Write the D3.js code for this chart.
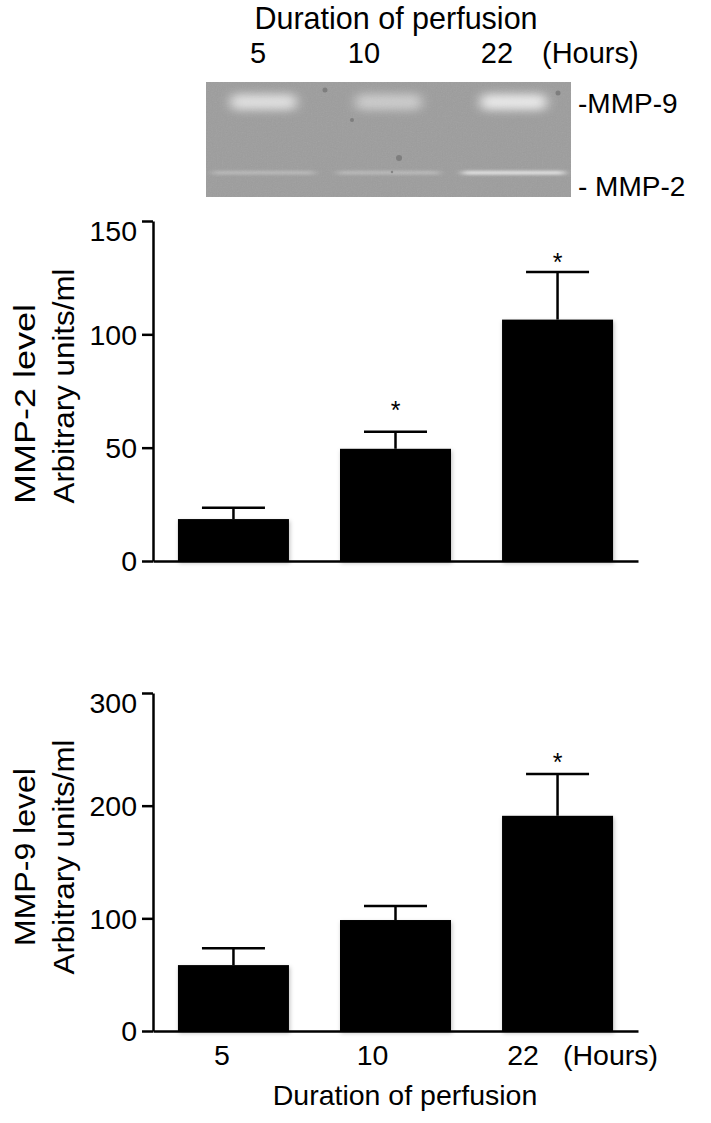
<!DOCTYPE html>
<html>
<head>
<meta charset="utf-8">
<script src="https://cdn.jsdelivr.net/npm/d3@7"></script>
<style>
  body { margin: 0; background: #fff; }
  svg { display: block; font-family: "Liberation Sans", Arial, Helvetica, sans-serif; }
</style>
</head>
<body>
<div id="chart"></div>
<script>
// ---- data ----
const hours = ["5", "10", "22"];

const mmp2Mean = [18.5, 49.5, 106.5];
const mmp2Sem = [5, 7.5, 21];
const mmp2Sig = [false, true, true];
const mmp2Ticks = [0, 50, 100, 150];

const mmp9Mean = [58.5, 98.5, 191];
const mmp9Sem = [15, 12.5, 37];
const mmp9Sig = [false, false, true];
const mmp9Ticks = [0, 100, 200, 300];

// zymogram band brightness per lane (0..1)
const gelMmp9 = [0.65, 0.45, 0.75];
const gelMmp2 = [0.3, 0.3, 0.75];

// ---- svg ----
const width = 711, height = 1123;
const svg = d3.select("#chart").append("svg")
    .attr("width", width)
    .attr("height", height);

const defs = svg.append("defs");
defs.append("filter").attr("id", "blur9")
    .attr("x", "-40%").attr("y", "-150%").attr("width", "180%").attr("height", "400%")
    .append("feGaussianBlur").attr("stdDeviation", "6 4");
defs.append("filter").attr("id", "blur2")
    .attr("x", "-30%").attr("y", "-300%").attr("width", "160%").attr("height", "700%")
    .append("feGaussianBlur").attr("stdDeviation", "4 1.5");
defs.append("filter").attr("id", "shadow")
    .attr("x", "-10%").attr("y", "-10%").attr("width", "130%").attr("height", "130%")
    .append("feDropShadow").attr("dx", 1).attr("dy", 2).attr("stdDeviation", 2)
    .attr("flood-color", "#000").attr("flood-opacity", 0.25);
const noise = defs.append("filter").attr("id", "noise")
    .attr("x", 0).attr("y", 0).attr("width", "100%").attr("height", "100%");
noise.append("feTurbulence").attr("type", "fractalNoise")
    .attr("baseFrequency", 0.8).attr("numOctaves", 2).attr("seed", 3);
noise.append("feColorMatrix").attr("type", "saturate").attr("values", 0);

// ---- gel picture at the top ----
const gel = { x0: 206, x1: 571, y0: 82, y1: 197 };
const lane = d3.scaleBand().domain(hours).range([gel.x0, gel.x1]).paddingInner(0.12).paddingOuter(0.02);

svg.append("rect")
    .attr("x", gel.x0).attr("y", gel.y0)
    .attr("width", gel.x1 - gel.x0).attr("height", gel.y1 - gel.y0)
    .attr("fill", "#9d9d9d");
svg.append("rect")
    .attr("x", gel.x0).attr("y", gel.y0)
    .attr("width", gel.x1 - gel.x0).attr("height", gel.y1 - gel.y0)
    .attr("filter", "url(#noise)")
    .attr("opacity", 0.12);

const gelG = svg.append("g");
gelG.selectAll(".b9")
    .data(hours)
    .join("rect")
    .attr("class", "b9")
    .attr("x", d => lane(d) + 22)
    .attr("y", 94)
    .attr("width", lane.bandwidth() - 44)
    .attr("height", 16)
    .attr("rx", 6)
    .attr("fill", "#fff")
    .attr("opacity", (d, i) => gelMmp9[i])
    .attr("filter", "url(#blur9)");

gelG.selectAll(".b2")
    .data(hours)
    .join("rect")
    .attr("class", "b2")
    .attr("x", d => lane(d) + 4)
    .attr("y", 171)
    .attr("width", lane.bandwidth() - 8)
    .attr("height", 3.5)
    .attr("fill", "#fff")
    .attr("opacity", (d, i) => gelMmp2[i])
    .attr("filter", "url(#blur2)");

// a few specks on the gel
[[325, 90, 2.5], [352, 120, 2], [399, 158, 3], [558, 93, 2.5], [392, 172, 1.2]].forEach(([cx, cy, r]) => {
    gelG.append("circle").attr("cx", cx).attr("cy", cy).attr("r", r)
        .attr("fill", "#707070").attr("opacity", 0.7);
});

svg.append("text")
    .attr("x", 396).attr("y", 29)
    .attr("text-anchor", "middle")
    .attr("font-size", 30.5)
    .text("Duration of perfusion");

const gelLabelX = [258, 364, 497];
svg.selectAll(".laneLabel")
    .data(hours)
    .join("text")
    .attr("class", "laneLabel")
    .attr("x", (d, i) => gelLabelX[i])
    .attr("y", 63)
    .attr("text-anchor", "middle")
    .attr("font-size", 29)
    .text(d => d);

svg.append("text").attr("x", 542).attr("y", 63).attr("font-size", 29).text("(Hours)");
svg.append("text").attr("x", 578).attr("y", 113).attr("font-size", 28).text("-MMP-9");
svg.append("text").attr("x", 578).attr("y", 196).attr("font-size", 28).text("- MMP-2");

// ---- bar panels ----
const x = d3.scaleBand()
    .domain(hours)
    .range([153, 638])
    .paddingInner(0.315)
    .paddingOuter(0.154);

function drawPanel(opts) {
    const { top, bottom, mean, sem, sig, ticks, line1, line2, labelY, line1Y, starGap } = opts;
    const rows = hours.map((h, i) => ({ h, mean: mean[i], sem: sem[i], sig: sig[i] }));

    const y = d3.scaleLinear()
        .domain([0, d3.max(ticks)])
        .range([bottom, top]);

    const g = svg.append("g");

    // bars
    g.selectAll(".bar")
        .data(rows)
        .join("rect")
        .attr("class", "bar")
        .attr("x", d => x(d.h))
        .attr("y", d => y(d.mean))
        .attr("width", x.bandwidth())
        .attr("height", d => y(0) - y(d.mean))
        .attr("fill", "#000")
        .attr("filter", "url(#shadow)");

    // error bars
    const cx = d => x(d.h) + x.bandwidth() / 2;
    g.selectAll(".err")
        .data(rows)
        .join("line")
        .attr("class", "err")
        .attr("x1", cx).attr("x2", cx)
        .attr("y1", d => y(d.mean))
        .attr("y2", d => y(d.mean + d.sem))
        .attr("stroke", "#000").attr("stroke-width", 2.5);

    g.selectAll(".cap")
        .data(rows)
        .join("line")
        .attr("class", "cap")
        .attr("x1", d => cx(d) - 31.5).attr("x2", d => cx(d) + 31.5)
        .attr("y1", d => y(d.mean + d.sem))
        .attr("y2", d => y(d.mean + d.sem))
        .attr("stroke", "#000").attr("stroke-width", 2.5);

    // significance stars
    g.selectAll(".star")
        .data(rows.filter(d => d.sig))
        .join("text")
        .attr("class", "star")
        .attr("x", cx)
        .attr("y", d => y(d.mean + d.sem) - starGap[hours.indexOf(d.h)] + 13)
        .attr("text-anchor", "middle")
        .attr("font-size", 25)
        .text("*");

    // axes
    const yAxis = g.append("g")
        .attr("transform", "translate(153,0)")
        .call(d3.axisLeft(y).tickValues(ticks).tickSize(11).tickSizeOuter(0).tickPadding(5));
    yAxis.selectAll("path, line").attr("stroke", "#000").attr("stroke-width", 2.5);
    yAxis.selectAll("text")
        .attr("font-size", 28.5)
        .attr("font-family", "Liberation Sans, Arial, sans-serif")
        .attr("fill", "#000")
        .attr("dy", d => d === d3.max(ticks) ? "0.7em" : "0.35em");

    const xAxis = g.append("g")
        .attr("transform", `translate(0,${bottom})`)
        .call(d3.axisBottom(x).tickSize(0).tickSizeOuter(0).tickFormat(""));
    xAxis.select(".domain").attr("stroke", "#000").attr("stroke-width", 2.5);

    // y label, two lines (rotated)
    g.append("text")
        .attr("transform", `translate(35,${line1Y[0]}) rotate(-90)`)
        .attr("text-anchor", line1Y[1])
        .attr("font-size", 29)
        .attr("textLength", line1Y[2])
        .attr("lengthAdjust", "spacingAndGlyphs")
        .text(line1);
    g.append("text")
        .attr("transform", `translate(74,${labelY}) rotate(-90)`)
        .attr("text-anchor", "middle")
        .attr("font-size", 29)
        .attr("textLength", 235)
        .attr("lengthAdjust", "spacingAndGlyphs")
        .text(line2);

    return { y };
}

drawPanel({
    top: 221, bottom: 561,
    mean: mmp2Mean, sem: mmp2Sem, sig: mmp2Sig, ticks: mmp2Ticks,
    line1: "MMP-2 level", line2: "Arbitrary units/ml",
    labelY: 386, line1Y: [504, "start", 200], starGap: [0, 26, 14]
});

drawPanel({
    top: 693, bottom: 1031,
    mean: mmp9Mean, sem: mmp9Sem, sig: mmp9Sig, ticks: mmp9Ticks,
    line1: "MMP-9 level", line2: "Arbitrary units/ml",
    labelY: 857, line1Y: [857, "middle", 178], starGap: [0, 0, 16]
});

// bottom category labels
const labelX = d3.scalePoint().domain(hours).range([222, 523]);
svg.selectAll(".xlab")
    .data(hours)
    .join("text")
    .attr("class", "xlab")
    .attr("x", d => labelX(d))
    .attr("y", 1065)
    .attr("text-anchor", "middle")
    .attr("font-size", 28.5)
    .text(d => d);

svg.append("text").attr("x", 563).attr("y", 1065).attr("font-size", 28.5).text("(Hours)");
svg.append("text")
    .attr("x", 405).attr("y", 1105)
    .attr("text-anchor", "middle")
    .attr("font-size", 28.5)
    .text("Duration of perfusion");
</script>
</body>
</html>
